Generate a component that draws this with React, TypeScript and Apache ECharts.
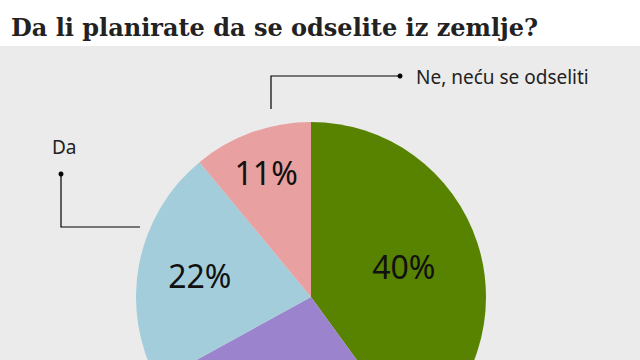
import React, { useEffect, useRef } from "react";
import * as echarts from "echarts";

const TITLE = "Da li planirate da se odselite iz zemlje?";
const categories = ["Da, planiram", "Možda", "Da", "Ne, neću se odseliti"];
const values = [40, 27, 22, 11];
const colors = ["#588300", "#9c83cd", "#a3cddb", "#e8a0a0"];
const valueLabels = ["40%", "27%", "22%", "11%"];
// which value labels are visible in the cropped view
const labelVisible = [true, false, true, true];
// radial position of each value label, as a fraction of the radius
const labelRadiusFraction = [0.54, 0.5, 0.63, 0.74];

const RADIUS = 175;
const CENTER: [number, number] = [311, 297];

export default function App() {
  const ref = useRef<HTMLDivElement>(null);
  useEffect(() => {
    if (!ref.current) return;
    const chart = echarts.init(ref.current, undefined, { renderer: "svg" });
    const total = values.reduce((a, b) => a + b, 0);
    const midAngles: number[] = [];
    let acc = 0;
    values.forEach((v) => {
      midAngles.push(((acc + v / 2) / total) * Math.PI * 2);
      acc += v;
    });
    chart.setOption({
      animation: false,
      backgroundColor: "#ebebeb",
      title: {
        text: TITLE,
        left: 6,
        top: 10,
        textStyle: {
          fontFamily: "DejaVu Serif",
          fontSize: 24,
          fontWeight: "bold",
          color: "#222222",
        },
      },
      graphic: [
        {
          type: "rect",
          z: -10,
          shape: { x: 0, y: 0, width: 640, height: 46 },
          style: { fill: "#ffffff" },
        },
        {
          type: "polyline",
          shape: { points: [[271, 109], [271, 76], [400, 76]] },
          style: { stroke: "#000", lineWidth: 1.2, fill: "none" },
        },
        { type: "circle", shape: { cx: 400, cy: 76, r: 2.5 }, style: { fill: "#000" } },
        {
          type: "text",
          x: 416,
          y: 77,
          style: {
            text: categories[3],
            fontFamily: "Noto Sans",
            fontSize: 19,
            fill: "#222",
            verticalAlign: "middle",
            align: "left",
          },
        },
        {
          type: "polyline",
          shape: { points: [[61, 174], [61, 227], [140, 227]] },
          style: { stroke: "#000", lineWidth: 1.2, fill: "none" },
        },
        { type: "circle", shape: { cx: 61, cy: 174, r: 2.5 }, style: { fill: "#000" } },
        {
          type: "text",
          x: 52,
          y: 147,
          style: {
            text: categories[2],
            fontFamily: "Noto Sans",
            fontSize: 19,
            fill: "#222",
            verticalAlign: "middle",
            align: "left",
          },
        },
      ],
      series: [
        {
          type: "pie",
          center: CENTER,
          radius: [0, RADIUS],
          startAngle: 90,
          clockwise: true,
          silent: true,
          itemStyle: { borderWidth: 0 },
          label: {
            show: true,
            position: "inside",
            fontFamily: "Noto Sans",
            fontSize: 32,
            color: "#111",
            formatter: (p: any) => valueLabels[p.dataIndex],
          },
          labelLine: { show: false },
          labelLayout: (params: any) => {
            const i = params.dataIndex;
            const a = midAngles[i];
            const d = (labelRadiusFraction[i] - 0.5) * RADIUS;
            return { dx: Math.sin(a) * d, dy: -Math.cos(a) * d };
          },
          data: categories.map((name, i) => ({
            name,
            value: values[i],
            itemStyle: { color: colors[i] },
            label: { show: labelVisible[i] },
          })),
        },
      ],
    });
    return () => chart.dispose();
  }, []);
  return (
    <div
      ref={ref}
      style={{ position: "absolute", left: 0, top: 0, width: 640, height: 360 }}
    />
  );
}
